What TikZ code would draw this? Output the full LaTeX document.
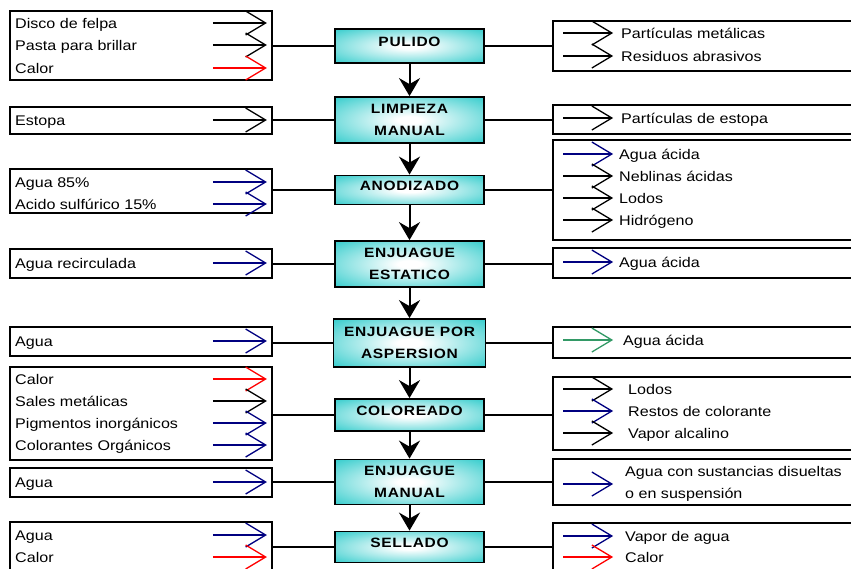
\documentclass[tikz,border=0pt]{standalone}
\usepackage{fontspec}
\setmainfont{Liberation Sans}[FakeStretch=1.15]
\usepackage{xcolor}
\usepackage{tikz}
\usetikzlibrary{arrows.meta, calc}

\definecolor{procteal}{RGB}{51,204,204}
\definecolor{flownavy}{RGB}{0,0,128}
\definecolor{flowred}{RGB}{255,0,0}
\definecolor{flowgreen}{RGB}{51,153,102}

\pgfdeclareradialshading{procglow}{\pgfpoint{0bp}{0bp}}{color(0bp)=(white); color(4bp)=(white); color(36bp)=(procteal); color(100bp)=(procteal)}

\newcommand{\itemfont}{\fontsize{14}{22}\selectfont}
\newcommand{\procfont}{\fontsize{13.5}{22}\selectfont\bfseries\addfontfeature{LetterSpace=5}}

\begin{document}
\begin{tikzpicture}[
    x=1pt, y=-1pt,
    process/.style={rectangle, draw, line width=1.8pt, shading=procglow, minimum width=149pt, align=center, font=\procfont, inner sep=2pt},
    oneline/.style={text depth=8pt},
    inbox/.style={rectangle, draw, line width=1.8pt, minimum width=262pt},
    outbox/.style={rectangle, draw, line width=1.8pt, minimum width=327pt},
    item/.style={anchor=west, inner sep=0pt, text height=10pt, text depth=0pt, font=\itemfont},
    link/.style={line width=2pt},
    flow/.style={line width=2pt, -{Stealth[length=18pt, width=21pt, inset=6pt]}},
    feed/.style={line width=1.3pt, -{Straight Barb[length=20pt, width=24pt]}}
]
\useasboundingbox (0,0) rectangle (851,568);
\clip (0,0) rectangle (851,568);

% Process chain
\node[process, oneline, minimum height=34pt] (pulido) at (409.5,46) {PULIDO};
\node[process, minimum height=46pt] (limpieza) at (409.5,120) {LIMPIEZA\\MANUAL};
\node[process, oneline, minimum height=29pt] (anodizado) at (409.5,190) {ANODIZADO};
\node[process, minimum height=46pt] (estatico) at (409.5,264) {ENJUAGUE\\ESTATICO};
\node[process, minimum height=48pt, minimum width=152pt] (aspersion) at (409.5,343) {ENJUAGUE POR\\ASPERSION};
\node[process, oneline, minimum height=32pt] (coloreado) at (409.5,415) {COLOREADO};
\node[process, minimum height=45pt] (enjmanual) at (409.5,482) {ENJUAGUE\\MANUAL};
\node[process, oneline, minimum height=31pt] (sellado) at (409.5,547) {SELLADO};

\foreach \a/\b in {pulido/limpieza, limpieza/anodizado, anodizado/estatico, estatico/aspersion,
                   aspersion/coloreado, coloreado/enjmanual, enjmanual/sellado}
    \draw[flow] (\a.south) -- (\b.north);

% Inputs (left)
\node[inbox, minimum height=69pt] (in1) at (141,45.5) {};
\node[item] (in1a) at (15,23) {Disco de felpa};
\node[item] (in1b) at (15,45) {Pasta para brillar};
\node[item] (in1c) at (15,68) {Calor};

\node[inbox, minimum height=27pt] (in2) at (141,120.5) {};
\node[item] (in2a) at (15,120) {Estopa};

\node[inbox, minimum height=44pt] (in3) at (141,191) {};
\node[item] (in3a) at (15,182) {Agua 85\%};
\node[item] (in3b) at (15,204) {Acido sulfúrico 15\%};

\node[inbox, minimum height=29pt] (in4) at (141,263.5) {};
\node[item] (in4a) at (15,263) {Agua recirculada};

\node[inbox, minimum height=29pt] (in5) at (141,341.5) {};
\node[item] (in5a) at (15,341) {Agua};

\node[inbox, minimum height=93pt] (in6) at (141,413.5) {};
\node[item] (in6a) at (15,379) {Calor};
\node[item] (in6b) at (15,401) {Sales metálicas};
\node[item] (in6c) at (15,423) {Pigmentos inorgánicos};
\node[item] (in6d) at (15,445) {Colorantes Orgánicos};

\node[inbox, minimum height=29pt] (in7) at (141,482.5) {};
\node[item] (in7a) at (15,482) {Agua};

\node[inbox, minimum height=68pt] (in8) at (141,556) {};
\node[item] (in8a) at (15,535) {Agua};
\node[item] (in8b) at (15,557) {Calor};

\foreach \b/\n/\c in {in1/in1a/black, in1/in1b/black, in1/in1c/flowred, in2/in2a/black,
                      in3/in3a/flownavy, in3/in3b/flownavy, in4/in4a/flownavy, in5/in5a/flownavy,
                      in6/in6a/flowred, in6/in6b/black, in6/in6c/flownavy, in6/in6d/flownavy,
                      in7/in7a/flownavy, in8/in8a/flownavy, in8/in8b/flowred}
    \draw[feed, \c] ($(\b.east |- \n)+(-60,0)$) -- ($(\b.east |- \n)+(-6,0)$);

% Outputs (right)
\node[outbox, minimum height=50pt] (out1) at (716.5,46) {};
\node[item] (out1a) at (621,33) {Partículas metálicas};
\node[item] (out1b) at (621,56) {Residuos abrasivos};

\node[outbox, minimum height=29pt] (out2) at (716.5,119.5) {};
\node[item] (out2a) at (621,118) {Partículas de estopa};

\node[outbox, minimum height=100pt] (out3) at (716.5,190) {};
\node[item] (out3a) at (619,154) {Agua ácida};
\node[item] (out3b) at (619,176) {Neblinas ácidas};
\node[item] (out3c) at (619,198) {Lodos};
\node[item] (out3d) at (619,220) {Hidrógeno};

\node[outbox, minimum height=30pt] (out4) at (716.5,263) {};
\node[item] (out4a) at (619,262) {Agua ácida};

\node[outbox, minimum height=31pt] (out5) at (716.5,342.5) {};
\node[item] (out5a) at (623,340) {Agua ácida};

\node[outbox, minimum height=73pt] (out6) at (716.5,413.5) {};
\node[item] (out6a) at (628,389) {Lodos};
\node[item] (out6b) at (628,411) {Restos de colorante};
\node[item] (out6c) at (628,433) {Vapor alcalino};

\node[outbox, minimum height=46pt] (out7) at (716.5,482) {};
\node[anchor=west, inner sep=0pt, font=\itemfont, align=left] (out7a) at (625,484) {Agua con sustancias disueltas\\o en suspensión};

\node[outbox, minimum height=77pt] (out8) at (716.5,561.5) {};
\node[item] (out8a) at (625,536) {Vapor de agua};
\node[item] (out8b) at (625,557) {Calor};

\foreach \b/\n/\c in {out1/out1a/black, out1/out1b/black, out2/out2a/black,
                      out3/out3a/flownavy, out3/out3b/black, out3/out3c/black, out3/out3d/black,
                      out4/out4a/flownavy, out5/out5a/flowgreen,
                      out6/out6a/black, out6/out6b/flownavy, out6/out6c/black,
                      out7/out7a/flownavy, out8/out8a/flownavy, out8/out8b/flowred}
    \draw[feed, \c] ($(\b.west |- \n)+(11,0)$) -- ($(\b.west |- \n)+(61,0)$);

% Connectors
\foreach \i/\p/\o in {in1/pulido/out1, in2/limpieza/out2, in3/anodizado/out3, in4/estatico/out4,
                      in5/aspersion/out5, in6/coloreado/out6, in7/enjmanual/out7, in8/sellado/out8} {
    \draw[link] (\p.west) -- (\p.west -| \i.east);
    \draw[link] (\p.east) -- (\p.east -| \o.west);
}

\end{tikzpicture}
\end{document}
